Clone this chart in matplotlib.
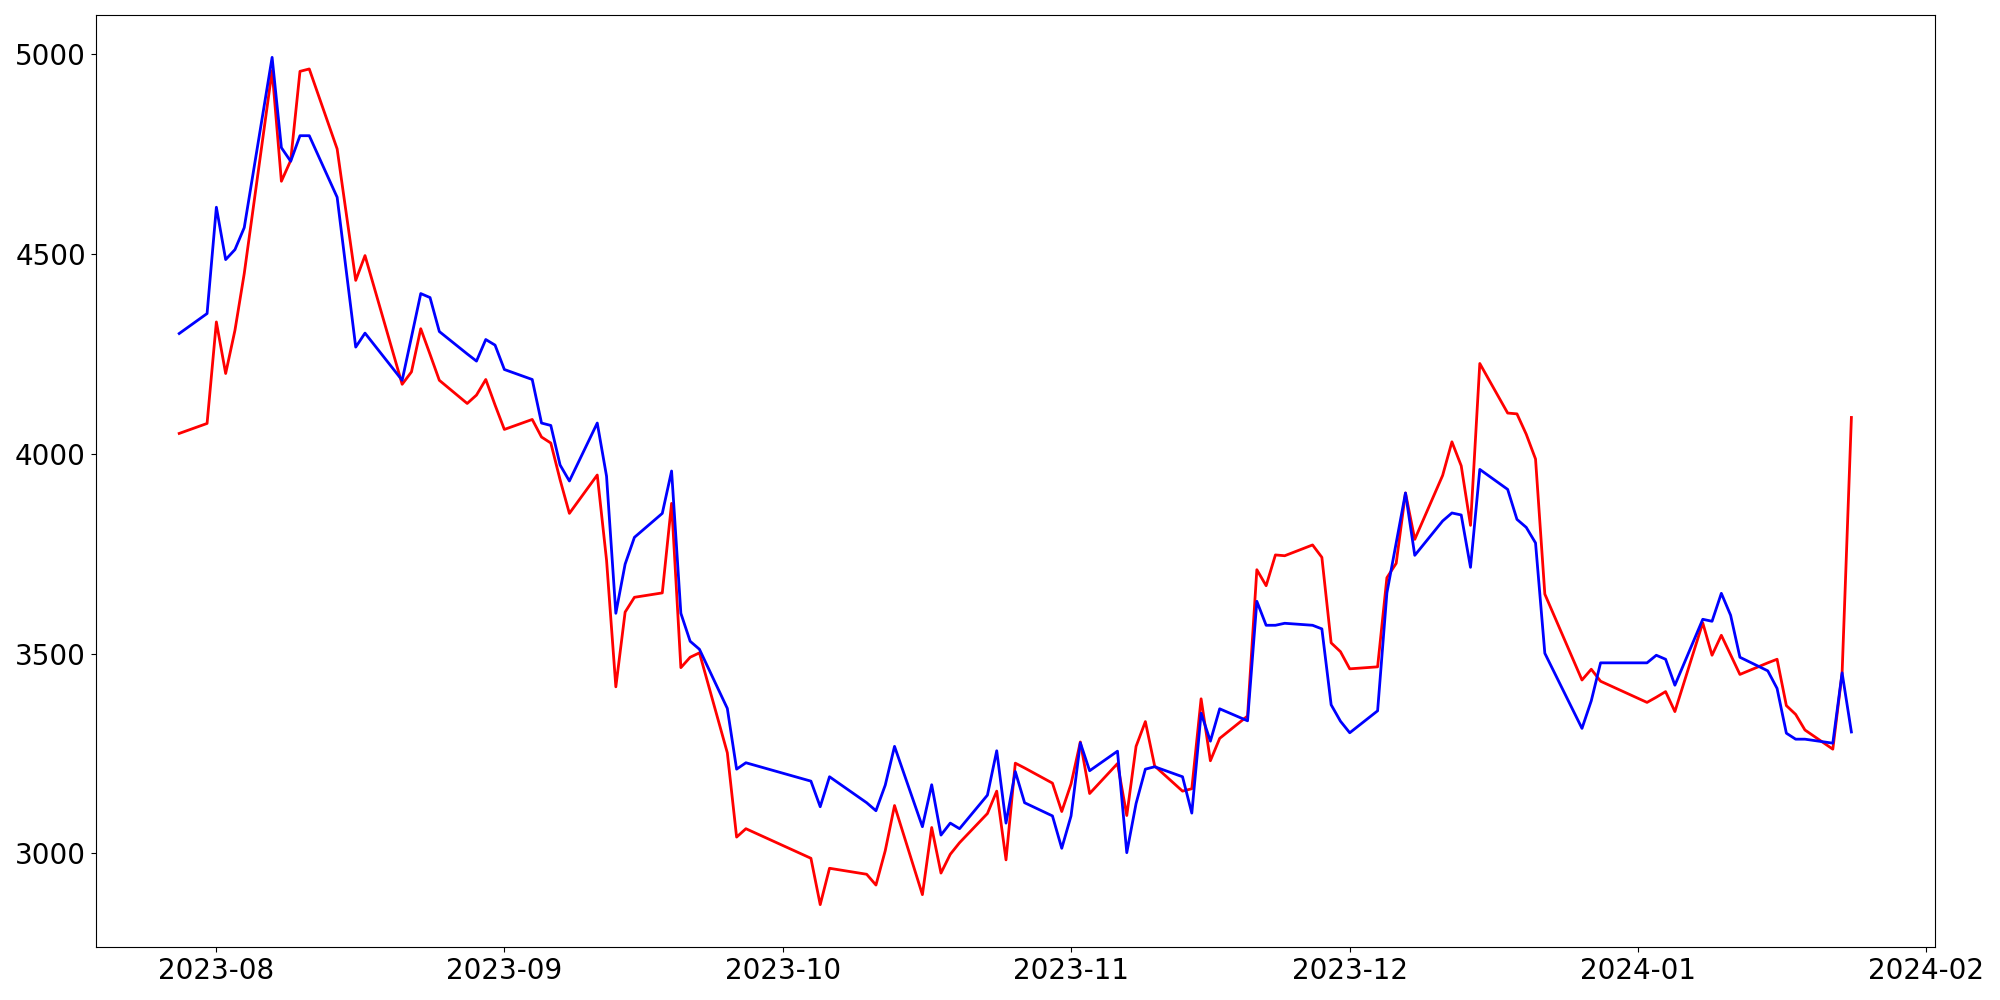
import matplotlib
matplotlib.use("Agg")
import matplotlib.pyplot as plt
import pandas as pd

dates = [
    "2023-07-28", "2023-07-31", "2023-08-01", "2023-08-02", "2023-08-03", "2023-08-04",
    "2023-08-07", "2023-08-08", "2023-08-09", "2023-08-10", "2023-08-11", "2023-08-14",
    "2023-08-16", "2023-08-17", "2023-08-21", "2023-08-22", "2023-08-23", "2023-08-24",
    "2023-08-25", "2023-08-28", "2023-08-29", "2023-08-30", "2023-08-31", "2023-09-01",
    "2023-09-04", "2023-09-05", "2023-09-06", "2023-09-07", "2023-09-08", "2023-09-11",
    "2023-09-12", "2023-09-13", "2023-09-14", "2023-09-15", "2023-09-18", "2023-09-19",
    "2023-09-20", "2023-09-21", "2023-09-22", "2023-09-25", "2023-09-26", "2023-09-27",
    "2023-10-04", "2023-10-05", "2023-10-06", "2023-10-10", "2023-10-11", "2023-10-12",
    "2023-10-13", "2023-10-16", "2023-10-17", "2023-10-18", "2023-10-19", "2023-10-20",
    "2023-10-23", "2023-10-24", "2023-10-25", "2023-10-26", "2023-10-27", "2023-10-30",
    "2023-10-31", "2023-11-01", "2023-11-02", "2023-11-03", "2023-11-06", "2023-11-07",
    "2023-11-08", "2023-11-09", "2023-11-10", "2023-11-13", "2023-11-14", "2023-11-15",
    "2023-11-16", "2023-11-17", "2023-11-20", "2023-11-21", "2023-11-22", "2023-11-23",
    "2023-11-24", "2023-11-27", "2023-11-28", "2023-11-29", "2023-11-30", "2023-12-01",
    "2023-12-04", "2023-12-05", "2023-12-06", "2023-12-07", "2023-12-08", "2023-12-11",
    "2023-12-12", "2023-12-13", "2023-12-14", "2023-12-15", "2023-12-18", "2023-12-19",
    "2023-12-20", "2023-12-21", "2023-12-22", "2023-12-26", "2023-12-27", "2023-12-28",
    "2024-01-02", "2024-01-03", "2024-01-04", "2024-01-05", "2024-01-08", "2024-01-09",
    "2024-01-10", "2024-01-11", "2024-01-12", "2024-01-15", "2024-01-16", "2024-01-17",
    "2024-01-18", "2024-01-19", "2024-01-22", "2024-01-23", "2024-01-24",
]

red_values = [
    4051, 4076, 4330, 4201, 4309, 4451,
    4959, 4682, 4734, 4957, 4963, 4763,
    4434, 4496, 4174, 4205, 4313, 4249,
    4184, 4126, 4147, 4186, 4122, 4061,
    4086, 4042, 4027, 3935, 3851, 3947,
    3734, 3417, 3604, 3641, 3652, 3876,
    3465, 3491, 3502, 3252, 3041, 3062,
    2988, 2872, 2963, 2948, 2921, 3007,
    3120, 2897, 3065, 2951, 2998, 3027,
    3100, 3156, 2984, 3226, 3214, 3176,
    3105, 3174, 3279, 3150, 3225, 3095,
    3268, 3330, 3219, 3156, 3162, 3387,
    3232, 3288, 3344, 3710, 3670, 3747,
    3745, 3772, 3741, 3527, 3505, 3462,
    3467, 3690, 3726, 3902, 3786, 3946,
    4030, 3970, 3821, 4226, 4102, 4100,
    4049, 3987, 3649, 3434, 3461, 3431,
    3378, 3391, 3405, 3355, 3577, 3496,
    3546, 3497, 3448, 3477, 3486, 3370,
    3348, 3309, 3261, 3451, 4091,
]

blue_values = [
    4301, 4351, 4617, 4486, 4511, 4566,
    4992, 4766, 4732, 4796, 4796, 4642,
    4267, 4302, 4184, 4292, 4401, 4391,
    4306, 4250, 4232, 4286, 4272, 4211,
    4186, 4077, 4071, 3972, 3932, 4077,
    3944, 3601, 3724, 3791, 3851, 3957,
    3601, 3531, 3511, 3363, 3211, 3227,
    3181, 3117, 3192, 3127, 3107, 3171,
    3268, 3067, 3172, 3046, 3076, 3062,
    3146, 3257, 3076, 3205, 3127, 3094,
    3013, 3094, 3277, 3207, 3256, 3002,
    3125, 3211, 3217, 3192, 3101, 3351,
    3281, 3362, 3332, 3631, 3571, 3571,
    3576, 3571, 3562, 3372, 3331, 3302,
    3357, 3652, 3777, 3902, 3746, 3832,
    3852, 3847, 3716, 3961, 3911, 3836,
    3816, 3777, 3501, 3313, 3382, 3477,
    3477, 3496, 3486, 3421, 3586, 3581,
    3651, 3596, 3491, 3457, 3413, 3301,
    3286, 3286, 3276, 3452, 3304,
]

x = pd.to_datetime(dates)

fig = plt.figure(figsize=(20, 10), dpi=100)
ax = fig.add_axes([0.0478, 0.053, 0.9197, 0.932])
ax.plot(x, red_values, color="red", linewidth=2)
ax.plot(x, blue_values, color="blue", linewidth=2)
ax.tick_params(axis="both", labelsize=20)
fig.savefig("out.png", dpi=100)
